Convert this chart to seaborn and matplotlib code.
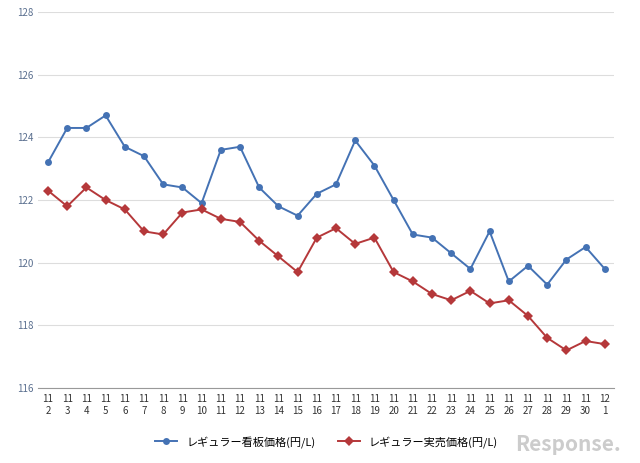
import matplotlib
matplotlib.use("Agg")
import matplotlib.pyplot as plt
import seaborn as sns
import pandas as pd

labels = ["11\n2","11\n3","11\n4","11\n5","11\n6","11\n7","11\n8","11\n9","11\n10","11\n11",
          "11\n12","11\n13","11\n14","11\n15","11\n16","11\n17","11\n18","11\n19","11\n20","11\n21",
          "11\n22","11\n23","11\n24","11\n25","11\n26","11\n27","11\n28","11\n29","11\n30","12\n1"]
signboard = [123.2,124.3,124.3,124.7,123.7,123.4,122.5,122.4,121.9,123.6,
             123.7,122.4,121.8,121.5,122.2,122.5,123.9,123.1,122.0,120.9,
             120.8,120.3,119.8,121.0,119.4,119.9,119.3,120.1,120.5,119.8]
actual = [122.3,121.8,122.4,122.0,121.7,121.0,120.9,121.6,121.7,121.4,
          121.3,120.7,120.2,119.7,120.8,121.1,120.6,120.8,119.7,119.4,
          119.0,118.8,119.1,118.7,118.8,118.3,117.6,117.2,117.5,117.4]
s1 = "レギュラー看板価格(円/L)"
s2 = "レギュラー実売価格(円/L)"

plt.rcParams["font.family"] = "Noto Sans CJK JP"
fig = plt.figure(figsize=(6.4, 4.63), dpi=100)
ax = fig.add_axes([0.06, 0.162, 0.9, 0.812])
x = list(range(len(labels)))
df = pd.DataFrame({"x": x*2, "v": signboard+actual, "s": [s1]*30+[s2]*30})
sns.lineplot(data=df, x="x", y="v", hue="s", style="s", markers=["o","D"], dashes=False,
             palette=["#4472b4", "#b5383a"], markersize=5, markeredgewidth=0, linewidth=1.4, ax=ax)
ax.set_xlim(-0.5, 29.5)
ax.set_ylim(116, 128)
ax.set_yticks(range(116, 129, 2))
ax.set_xticks(x)
ax.set_xticklabels(labels, fontsize=7, color="#333333", linespacing=1.3)
ax.tick_params(axis="y", labelsize=7, colors="#5a6f8f", length=0)
ax.tick_params(axis="x", length=0, pad=4)
ax.yaxis.grid(True, color="#dddddd", linewidth=0.8)
ax.set_axisbelow(True)
for sp in ["top", "right", "left"]:
    ax.spines[sp].set_visible(False)
ax.spines["bottom"].set_color("#999999")
ax.set_xlabel(""); ax.set_ylabel("")
h, l = ax.get_legend_handles_labels()
ax.legend(h, l, loc="upper center", bbox_to_anchor=(0.5, -0.1), ncol=2, frameon=False, fontsize=8)
fig.text(0.97, 0.025, "Response.", ha="right", fontsize=15, color="#cccccc", style="italic", weight="bold")
fig.savefig("out.png", dpi=100)
